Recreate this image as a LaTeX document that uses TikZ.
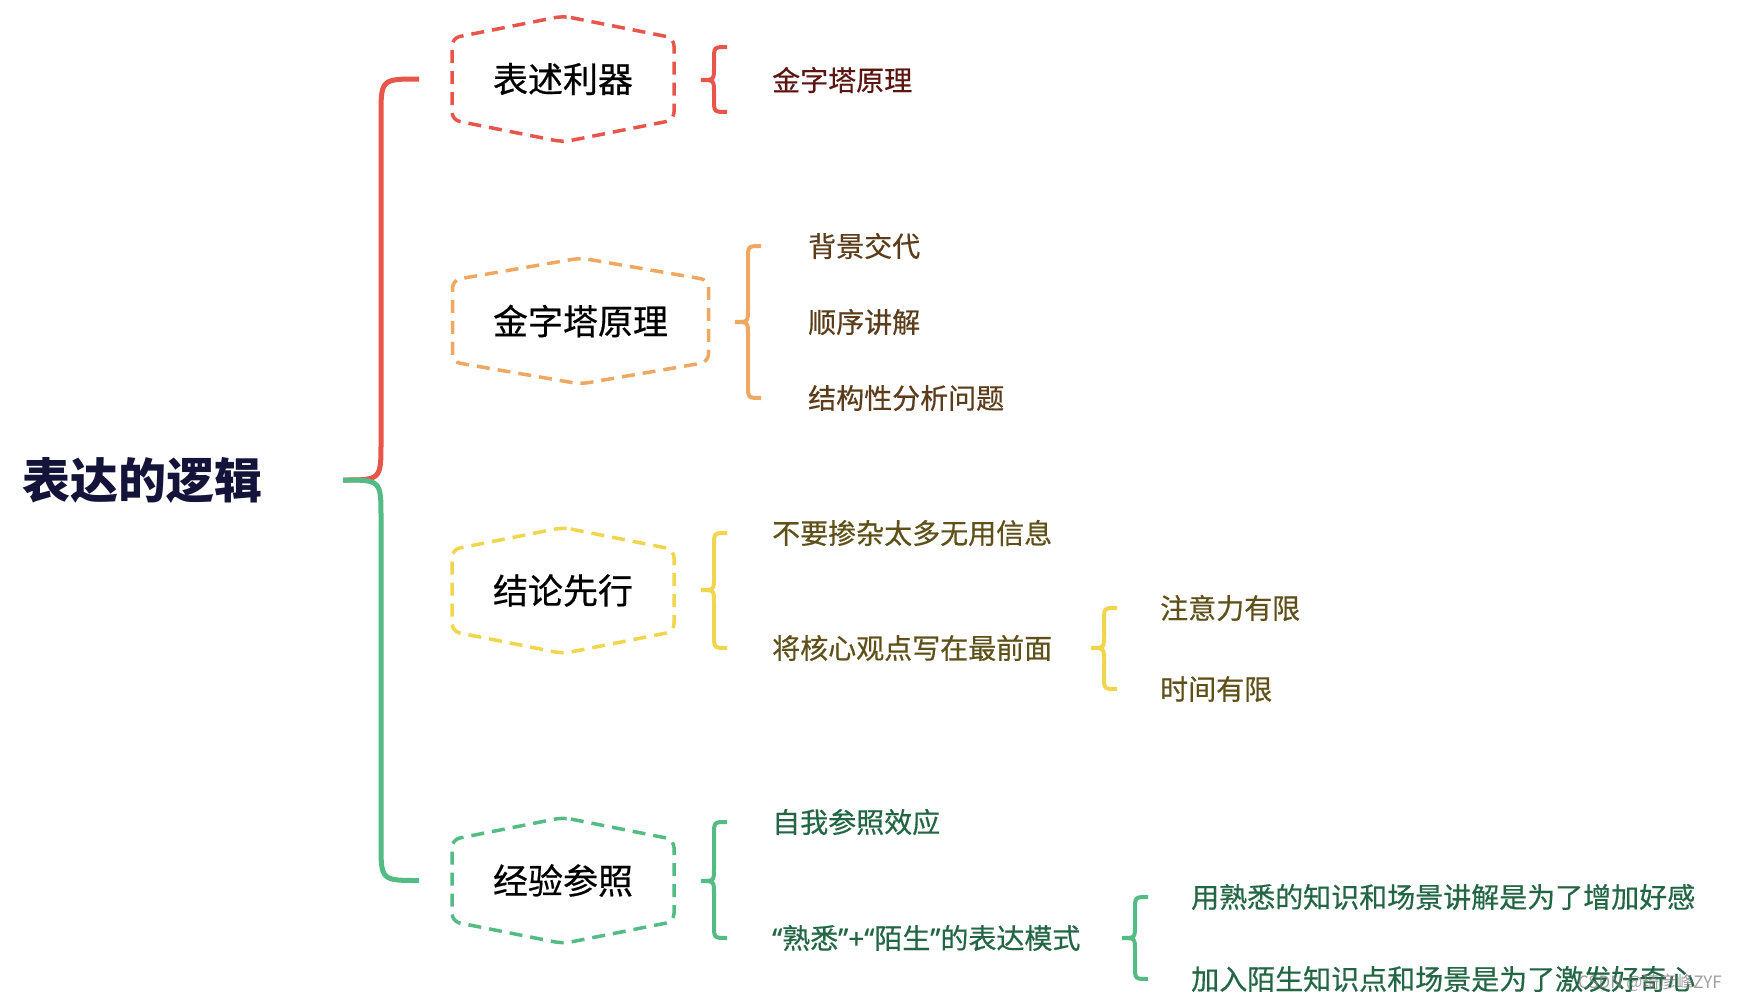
\documentclass[tikz,border=0pt]{standalone}
\usepackage{fontspec}
\setmainfont{Noto Sans CJK SC}
\newfontfamily\medcjk[FakeBold=0.5]{Noto Sans CJK SC}
\newfontfamily\latinq[FakeBold=0.5]{Noto Sans}
\usetikzlibrary{calc}
\definecolor{cRed}{HTML}{E8554A}
\definecolor{cOrange}{HTML}{EEA862}
\definecolor{cYellow}{HTML}{F0D54E}
\definecolor{cGreen}{HTML}{55BB85}
\definecolor{tRed}{HTML}{5C1612}
\definecolor{tBrown}{HTML}{5C3C1A}
\definecolor{tOlive}{HTML}{5E5018}
\definecolor{tGreen}{HTML}{226644}
\definecolor{rootc}{HTML}{14143A}
\tikzset{
  hexline/.style={line width=3.5, dash pattern=on 13 off 8, rounded corners=8},
  bracel/.style={line width=4},
  mainl/.style={line width=5},
  hexlabel/.style={font=\fontsize{35}{40}\selectfont\medcjk, text=black, inner sep=0},
  leaf/.style={font=\fontsize{28}{32}\selectfont\medcjk, anchor=west, inner sep=0},
  rootlabel/.style={font=\fontsize{48}{54}\selectfont\bfseries, text=rootc, anchor=west, inner sep=0},
}
\newcommand\hexdraw[3]{%
  \draw[hexline,#3] ($(#1)+(0,-63)$) -- ($(#1)+(#2,-41)$) -- ($(#1)+(#2,41)$)
    -- ($(#1)+(0,63)$) -- ($(#1)+(-#2,41)$) -- ($(#1)+(-#2,-41)$) -- cycle;}
\newcommand\bracedraw[4]{%
  \draw[bracel,#1] let \p1=(#2), \p2=(#3), \p3=(#4) in
    (\x1+26,\y2) .. controls (\x1+13,\y2) .. (\x1+13,\y2-13)
    -- (\x1+13,\y1+13) .. controls (\x1+13,\y1) .. (\x1,\y1)
    .. controls (\x1+13,\y1) .. (\x1+13,\y1-13)
    -- (\x1+13,\y3+13) .. controls (\x1+13,\y3) .. (\x1+26,\y3);}
\begin{document}
\begin{tikzpicture}[x=1pt,y=-1pt]
\useasboundingbox[fill=white] (0,0) rectangle (1737,1001);

% root
\node[rootlabel] (root) at (22,480) {表达的逻辑};
\coordinate (mtip) at (343,480);

% hexagon labels
\node[hexlabel] (h1) at (563,79) {表述利器};
\node[hexlabel] (h2) at (580.5,321) {金字塔原理};
\node[hexlabel] (h3) at (563,590.5) {结论先行};
\node[hexlabel] (h4) at (563,880.5) {经验参照};
\hexdraw{h1}{111}{cRed}
\hexdraw{h2}{128}{cOrange}
\hexdraw{h3}{111}{cYellow}
\hexdraw{h4}{111}{cGreen}

% main bracket
\draw[mainl,cRed] let \p1=(mtip), \p2=(h1) in
  (\x1+76,\y2) .. controls (\x1+38,\y2) .. (\x1+38,\y2-38)
  -- (\x1+38,\y1+38) .. controls (\x1+38,\y1) .. (\x1,\y1);
\draw[mainl,cGreen] let \p1=(mtip), \p3=(h4) in
  (\x1,\y1) .. controls (\x1+38,\y1) .. (\x1+38,\y1-38)
  -- (\x1+38,\y3+38) .. controls (\x1+38,\y3) .. (\x1+76,\y3);

% leaves
\node[leaf,text=tRed] (t1) at (772,80) {金字塔原理};
\node[leaf,text=tBrown] (t2a) at (808,246) {背景交代};
\node[leaf,text=tBrown] (t2b) at (808,322) {顺序讲解};
\node[leaf,text=tBrown] (t2c) at (808,398) {结构性分析问题};
\node[leaf,text=tOlive] (t3a) at (772,533) {不要掺杂太多无用信息};
\node[leaf,text=tOlive] (t3b) at (772,648) {将核心观点写在最前面};
\node[leaf,text=tOlive] (t3c) at (1160,608) {注意力有限};
\node[leaf,text=tOlive] (t3d) at (1160,689) {时间有限};
\node[leaf,text=tGreen] (t4a) at (772,822) {自我参照效应};
\node[leaf,text=tGreen] (t4b) at (772,938) {{\latinq “}熟悉{\latinq ”+“}陌生{\latinq ”}的表达模式};
\node[leaf,text=tGreen] (t4c) at (1191,897) {用熟悉的知识和场景讲解是为了增加好感};
\node[leaf,text=tGreen] (t4d) at (1191,979) {加入陌生知识点和场景是为了激发好奇心};

% brace tips and ends
\coordinate (b1) at (701,80);
\coordinate (b1t) at (727,47);
\coordinate (b1b) at (727,112);
\coordinate (b2) at (735,322);
\coordinate (b3) at (701,590);
\coordinate (b3b) at (1091,648);
\coordinate (b4) at (701,881);
\coordinate (b4b) at (1122,938);

\bracedraw{cRed}{b1}{b1t}{b1b}
\bracedraw{cOrange}{b2}{t2a.west}{t2c.west}
\bracedraw{cYellow}{b3}{t3a.west}{t3b.west}
\bracedraw{cYellow}{b3b}{t3c.west}{t3d.west}
\bracedraw{cGreen}{b4}{t4a.west}{t4b.west}
\bracedraw{cGreen}{b4b}{t4c.west}{t4d.west}

% watermark
\node[anchor=east, inner sep=0, font=\fontsize{17}{20}\selectfont, text=gray, opacity=0.75] (wm) at (1722,983) {CSDN @琦彦峰ZYF};
\end{tikzpicture}
\end{document}
